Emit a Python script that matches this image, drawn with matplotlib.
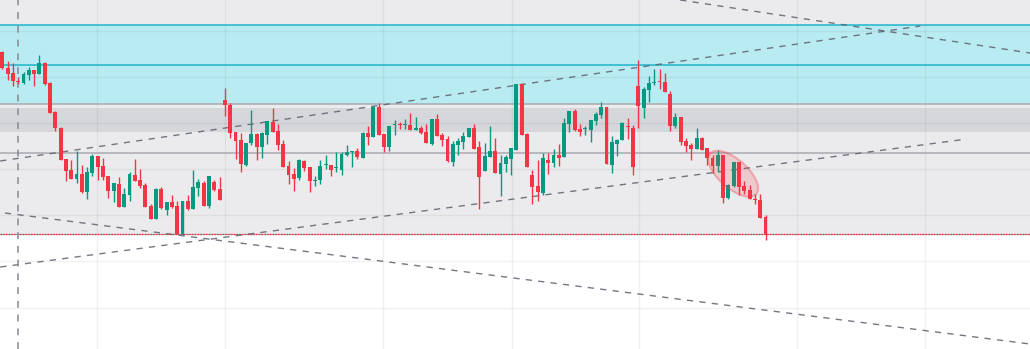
import numpy as np
import matplotlib
matplotlib.use("Agg")
import matplotlib.pyplot as plt
from matplotlib.patches import Ellipse
from matplotlib.transforms import ScaledTranslation

# ---- OHLC series (one bar per session) ----
opens = [297.3, 280.7, 275.7, 268.0, 266.3, 274.0, 279.0, 275.3, 286.3, 266.0,
         237.0, 221.3, 190.0, 179.0, 170.0, 175.0, 157.0, 176.3, 193.0, 183.0,
         173.0, 158.3, 165.0, 142.3, 154.0, 174.0, 169.0, 164.0, 143.0, 130.3,
         160.0, 139.3, 147.0, 143.0, 115.3, 148.0, 140.3, 161.3, 166.0, 143.3,
         167.0, 160.0, 249.0, 244.0, 216.7, 209.0, 184.0, 206.0, 215.0, 202.3,
         214.3, 226.7, 218.0, 205.0, 183.0, 175.0, 171.3, 188.0, 182.0, 168.3,
         169.3, 184.0, 184.0, 180.7, 179.3, 194.0, 197.0, 198.0, 191.3, 216.0,
         212.3, 242.0, 215.0, 202.3, 223.7, 224.3, 223.7, 224.0, 219.3, 221.0,
         217.0, 205.3, 230.0, 214.0, 210.0, 187.3, 204.0, 207.0, 212.0, 221.0,
         202.0, 178.3, 192.3, 198.0, 175.3, 185.3, 190.3, 199.3, 265.0, 215.3,
         174.0, 163.3, 156.3, 189.0, 186.3, 194.0, 192.3, 225.0, 238.0, 220.0,
         219.7, 219.3, 228.0, 234.0, 242.0, 184.3, 205.3, 209.0, 222.3, 221.0,
         263.0, 241.0, 259.0, 266.0, 268.0, 267.3, 255.3, 223.3, 232.3, 208.0,
         204.0, 200.3, 211.0, 201.0, 191.0, 183.3, 194.0, 151.3, 163.3, 187.0,
         163.3, 159.3, 149.7, 149.3, 132.3]
highs = [298.0, 288.0, 286.0, 272.3, 276.7, 281.7, 279.0, 294.0, 287.3, 267.0,
         238.0, 222.3, 190.0, 189.0, 198.0, 184.0, 182.0, 195.0, 193.0, 191.3,
         173.0, 166.0, 172.0, 161.0, 177.3, 190.0, 180.0, 166.0, 145.0, 161.0,
         162.0, 147.0, 154.0, 148.0, 148.0, 154.0, 179.0, 170.0, 168.0, 173.0,
         169.0, 172.0, 261.0, 246.0, 216.7, 216.3, 206.0, 239.0, 216.3, 217.0,
         227.7, 241.0, 225.0, 209.0, 188.0, 181.3, 190.0, 189.0, 182.0, 173.0,
         189.0, 194.0, 184.0, 197.0, 197.0, 204.0, 198.0, 201.0, 217.0, 223.0,
         243.0, 246.0, 215.0, 223.0, 229.0, 227.0, 230.0, 236.0, 232.0, 223.0,
         225.0, 230.0, 235.0, 216.0, 213.0, 208.0, 211.0, 217.0, 221.0, 225.0,
         208.0, 206.0, 223.0, 211.0, 194.0, 194.0, 201.0, 265.0, 266.0, 216.3,
         179.0, 189.3, 196.0, 196.0, 200.0, 205.0, 231.0, 238.0, 240.0, 225.0,
         223.0, 229.0, 237.0, 247.0, 242.0, 213.0, 210.0, 227.0, 231.0, 224.0,
         289.0, 262.0, 273.0, 280.0, 280.0, 276.3, 257.7, 236.0, 232.3, 211.0,
         206.0, 221.0, 212.0, 201.0, 194.0, 199.0, 194.0, 165.3, 187.0, 187.0,
         168.3, 164.3, 155.3, 155.3, 134.3]
lows = [280.0, 269.0, 263.3, 264.7, 265.0, 269.3, 263.3, 275.3, 264.0, 236.3,
        218.0, 189.3, 168.3, 170.0, 166.0, 155.7, 150.0, 173.0, 169.0, 169.0,
        151.3, 147.3, 142.3, 142.3, 148.3, 168.0, 161.3, 142.3, 130.3, 130.3,
        140.3, 134.3, 141.3, 115.3, 114.0, 139.3, 140.3, 153.3, 143.3, 141.3,
        158.3, 149.3, 233.0, 211.3, 190.3, 177.3, 183.0, 204.3, 189.3, 191.3,
        205.0, 217.3, 199.3, 182.3, 165.3, 158.3, 169.3, 178.3, 157.3, 163.3,
        165.3, 180.3, 173.3, 177.3, 174.3, 193.3, 182.3, 190.3, 191.3, 204.3,
        212.3, 214.3, 197.3, 198.3, 214.3, 220.0, 220.0, 219.3, 219.3, 215.3,
        206.3, 204.3, 213.3, 203.3, 187.3, 183.3, 194.3, 200.3, 212.0, 200.3,
        140.3, 178.3, 192.3, 176.3, 153.3, 177.3, 174.3, 199.3, 214.3, 182.3,
        145.3, 148.3, 154.3, 175.3, 182.3, 183.3, 192.3, 217.3, 218.0, 213.3,
        214.3, 207.3, 224.0, 231.0, 185.3, 176.3, 193.3, 209.0, 210.0, 174.3,
        221.3, 231.0, 247.3, 264.3, 260.0, 257.3, 218.3, 221.3, 204.3, 197.3,
        189.3, 200.3, 199.3, 184.3, 176.3, 177.3, 146.3, 150.3, 162.3, 154.3,
        155.3, 150.3, 145.3, 131.3, 109.0]
closes = [280.7, 275.0, 268.3, 267.5, 275.0, 279.0, 275.3, 286.3, 265.0, 236.3,
          221.3, 189.3, 178.0, 170.0, 175.0, 156.7, 177.0, 193.0, 182.0, 172.0,
          158.0, 166.0, 142.3, 155.0, 175.0, 168.0, 163.3, 142.3, 130.3, 160.0,
          141.3, 147.0, 142.3, 115.3, 148.0, 140.3, 162.0, 167.0, 143.3, 173.0,
          159.3, 149.3, 244.0, 216.3, 208.3, 185.3, 206.0, 215.0, 202.3, 216.0,
          227.7, 217.3, 204.3, 182.3, 174.3, 170.3, 189.0, 181.3, 168.3, 169.0,
          183.0, 184.5, 179.3, 181.3, 195.0, 197.0, 197.5, 192.0, 216.0, 212.3,
          242.0, 214.3, 202.3, 223.0, 224.3, 223.7, 224.3, 219.3, 221.0, 216.0,
          206.3, 230.0, 213.3, 209.0, 188.3, 205.0, 208.0, 213.0, 221.0, 200.3,
          172.3, 193.0, 198.0, 176.3, 186.0, 192.0, 201.0, 265.0, 214.3, 182.3,
          162.3, 157.3, 191.0, 186.3, 194.0, 191.3, 226.0, 238.0, 219.0, 217.0,
          220.3, 229.0, 235.0, 242.0, 185.3, 207.0, 209.0, 226.0, 221.7, 182.3,
          243.0, 260.0, 266.3, 266.7, 267.4, 257.3, 223.3, 232.0, 207.3, 203.3,
          200.3, 211.0, 199.3, 191.3, 183.3, 194.0, 151.3, 164.3, 187.0, 162.3,
          158.3, 150.3, 149.0, 131.3, 115.3]

# ---- drawn levels and zones (price units) ----
zone_top, zone_bottom = 349.0, 115.5          # shaded range box
supply_zone = (245.0, 324.0)                  # cyan box
inner_zone = (217.0, 241.0)                   # grey box
cyan_levels = [324.0, 284.0]
grey_levels = [245.0, 196.0]
last_price = 115.5

# trend lines: ((x0, y0), (x1, y1)) in (bar index, price)
trend_lines = [
    ((-0.4, 188.0), (173.2, 323.0)),
    ((-0.4, 82.0), (182.0, 210.0)),
    ((127.9, 349.0), (193.9, 296.0)),
    ((0.5, 136.0), (193.9, 5.0)),
]
marker_bar = 3                                 # vertical dashed marker
highlight_center = (137.9, 175.3)              # ellipse around the pullback

# grid positions
x_grid = [17.9, 42.0, 71.8, 96.2, 120.1, 149.9, 174.1]
y_grid = [41, 88, 134, 180, 226, 272, 318]

UP = "#089981"
DOWN = "#f23645"

fig = plt.figure(figsize=(10.30, 3.49), dpi=100)
ax = fig.add_axes([0, 0, 1, 1])
ax.set_xlim(-0.434, 193.9)
ax.set_ylim(0, 349)
ax.axis("off")
ax.set_facecolor("white")
fig.patch.set_facecolor("white")

# zones
ax.axhspan(zone_bottom, zone_top, color="#ebebed", zorder=0, lw=0)
ax.axhspan(*supply_zone, color="#b9ebf2", zorder=0.5, lw=0)
ax.axhspan(*inner_zone, color="#d6d7db", zorder=0.5, lw=0)

# grid
for gx in x_grid:
    ax.axvline(gx, color=(0, 0, 0, 0.05), lw=1, zorder=1)
for gy in y_grid:
    ax.axhline(gy, color=(0, 0, 0, 0.05), lw=1, zorder=1)

# horizontal levels
for lv in cyan_levels:
    ax.axhline(lv, color="#1fb5ca", lw=1.1, zorder=2)
for lv in grey_levels:
    ax.axhline(lv, color="#a9abb1", lw=1.1, zorder=2)

# lower edge of the range box, then the current price line over it
ax.axhline(zone_bottom, color="#9a9ca3", lw=0.8, zorder=2)
ax.axhline(last_price, color=DOWN, lw=1.0, ls=(0, (1, 1)), zorder=2.1)

# trend lines
for (x0, y0), (x1, y1) in trend_lines:
    ax.plot([x0, x1], [y0, y1], color="#5d606b", lw=1.0, ls=(0, (4.5, 4.5)),
            alpha=0.85, zorder=3)
ax.axvline(marker_bar, color="#868993", lw=1.1, ls=(0, (4.5, 4.5)), zorder=3)

# candles
o = np.array(opens); h = np.array(highs); l = np.array(lows); c = np.array(closes)
idx = np.arange(len(o))
colors = np.where(c >= o, UP, DOWN)
ax.vlines(idx, l, h, colors=colors, lw=1.0, zorder=4)
body_bottom = np.minimum(o, c)
body_height = np.maximum(np.abs(c - o), 1.0)
ax.bar(idx, body_height, bottom=body_bottom, width=0.74, color=colors,
       lw=0, zorder=5)

# highlight ellipse, sized in screen units around a data anchor
trans = fig.dpi_scale_trans + ScaledTranslation(*highlight_center, ax.transData)
ell = Ellipse((0, 0), 0.616, 0.287, angle=-41.3, transform=trans,
              facecolor=(242/255, 54/255, 69/255, 0.18),
              edgecolor=(242/255, 54/255, 69/255, 0.32), lw=1.5, zorder=6)
ax.add_patch(ell)

fig.savefig("out.png", dpi=100, facecolor="white")
